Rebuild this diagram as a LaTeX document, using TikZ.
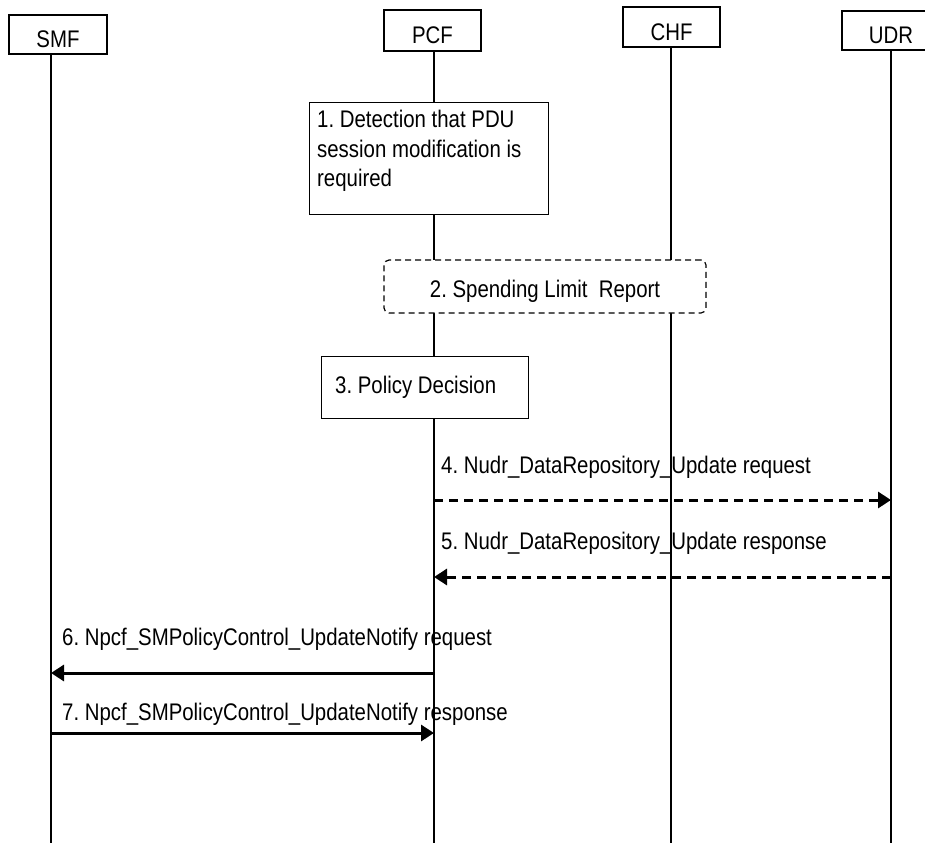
\documentclass[tikz,border=0pt]{standalone}
\usepackage{fontspec}
\setmainfont{Liberation Sans}[FakeStretch=0.85]
\usetikzlibrary{arrows.meta}
\frenchspacing
\newcommand\diafont{\fontsize{24}{29.5}\selectfont}
\tikzset{
	entity/.style={draw, line width=1.2pt, fill=white, minimum width=97pt, minimum height=40pt, inner sep=0pt, text height=27pt, text depth=0pt},
	actbox/.style={draw, line width=1.2pt, fill=white, inner sep=0pt},
	reportbox/.style={draw, dash pattern=on 6pt off 4pt, rounded corners=5pt, line width=1.2pt, fill=white, inner sep=0pt, text height=21pt, text depth=0pt},
	lifeline/.style={line width=1.2pt},
	msg/.style={line width=3pt, -{Triangle[length=13pt,width=16pt]}},
	dmsg/.style={msg, dash pattern=on 9pt off 6pt},
	lbl/.style={anchor=base west, inner sep=0pt}
}

\begin{document}
\begin{tikzpicture}[x=1pt, y=-1pt, font=\diafont]
			%%%%% START %%%%%
			\useasboundingbox (0,0) rectangle (925,843);
			
			\coordinate (smfend) at (51,843);
			\coordinate (pcfend) at (434,843);
			\coordinate (chfend) at (671,843);
			\coordinate (udrend) at (891,843);
			
			\node[entity, minimum width=98pt, minimum height=39pt] (smf) at (58,34.5) {SMF};
			\node[entity, minimum height=41pt] (pcf) at (432.5,30.5) {PCF};
			\node[entity] (chf) at (671.5,27) {CHF};
			\node[entity, minimum width=98pt, minimum height=39pt] (udr) at (891,30.5) {UDR};
			
			\draw[lifeline] (smf.south -| smfend) -- (smfend);
			\draw[lifeline] (pcf.south -| pcfend) -- (pcfend);
			\draw[lifeline] (chf.south -| chfend) -- (chfend);
			\draw[lifeline] (udr.south -| udrend) -- (udrend);
			
			\node[actbox, anchor=north west, minimum width=239pt, minimum height=112pt] (detect) at (309,102) {};
			\node[anchor=north west, align=left, inner sep=0pt] (detecttext) at (317,110) {1. Detection that PDU\\session modification is\\required};
			
			\node[reportbox, minimum width=322pt, minimum height=53pt] (report) at (545,286.5) {2. Spending Limit\ \ Report};
			
			\node[actbox, anchor=north west, minimum width=207pt, minimum height=62pt] (decision) at (321,356) {};
			\node[lbl] (decisiontext) at (335,393) {3. Policy Decision};
			
			\coordinate (m4) at (0,500);
			\coordinate (m5) at (0,577);
			\coordinate (m6) at (0,673);
			\coordinate (m7) at (0,733);
			
			\node[lbl] (l4) at (441,473) {4. Nudr\_DataRepository\_Update request};
			\draw[dmsg] (pcfend |- m4) -- (udrend |- m4);
			
			\node[lbl] (l5) at (441,549) {5. Nudr\_DataRepository\_Update response};
			\draw[dmsg] (udrend |- m5) -- (pcfend |- m5);
			
			\node[lbl] (l6) at (62,645) {6. Npcf\_SMPolicyControl\_UpdateNotify request};
			\draw[msg] (pcfend |- m6) -- (smfend |- m6);
			
			\node[lbl] (l7) at (62,720) {7. Npcf\_SMPolicyControl\_UpdateNotify response};
			\draw[msg] (smfend |- m7) -- (pcfend |- m7);
			
			%%%%% END %%%%%
\end{tikzpicture}
\end{document}
